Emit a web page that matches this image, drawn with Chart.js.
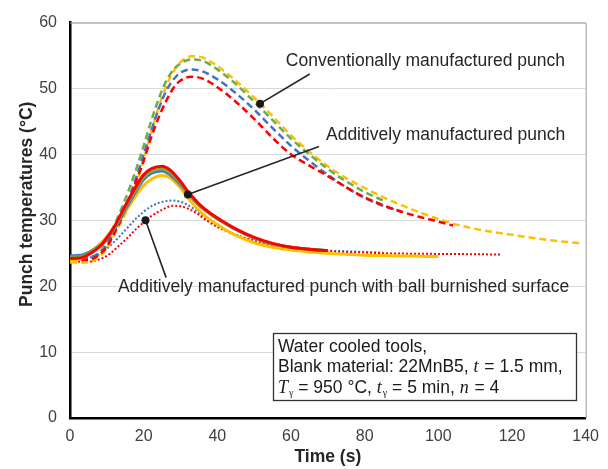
<!DOCTYPE html>
<html>
<head>
<meta charset="utf-8">
<script src="https://cdn.jsdelivr.net/npm/chart.js@4.4.1/dist/chart.umd.min.js"></script>
<style>
  html, body { margin: 0; padding: 0; background: #fff; }
</style>
</head>
<body>
<canvas id="myChart" width="608" height="469"></canvas>
<script>
// x ticks / y ticks
const xTicks = [0, 20, 40, 60, 80, 100, 120, 140];
const yTicks = [0, 10, 20, 30, 40, 50, 60];

// Conventionally manufactured punch (dashed)
const convTime   = [0, 5, 8, 10, 12, 15, 18, 20, 22, 24, 26, 28, 30, 33, 36, 40, 45, 50, 55, 60, 65, 70, 75, 80, 85, 90, 95, 100, 104, 110, 120, 130, 139];
const convYellow = [23.6, 23.6, 24.5, 25.7, 27.8, 31, 35.5, 39.3, 43.3, 47, 50.2, 52.5, 54, 54.9, 54.7, 53.4, 51.2, 48.6, 45.8, 42.9, 40.4, 38.2, 36.4, 34.9, 33.5, 32.3, 31.2, 30.2, 29.5, 28.7, 27.8, 27.0, 26.5];
const convGreen  = [24.2, 24.2, 25.2, 26.8, 29.2, 33.2, 37.8, 41.3, 45, 48.3, 51, 52.8, 53.8, 54.4, 54.2, 52.9, 50.7, 48, 45.2, 42.4, 40, 37.8, 35.9, 34.3, 33.0];
const convBlue   = [24.4, 24.4, 25, 26.2, 28.4, 32, 36.5, 40, 43.5, 46.8, 49.5, 51.3, 52.4, 52.9, 52.6, 51.4, 49.3, 46.8, 44, 41.3, 39, 36.9, 35, 33.4, 32.2, 31.3];
const convRed    = [24, 24, 24.8, 26, 28, 31.5, 36, 39, 42.5, 45.5, 48, 50, 51.2, 51.8, 51.5, 50.2, 48, 45.4, 42.5, 40, 38.3, 36.7, 35, 33.5, 32.3, 31.3, 30.5, 29.8, 29.2];

// Additively manufactured punch (solid)
const addTime   = [0, 3, 5, 7, 9, 12, 15, 18, 20, 22, 25, 27, 30, 32, 35, 38, 41, 45, 50, 55, 60, 65, 70, 75, 80, 85, 90, 95, 100];
const addRed    = [24.2, 24.3, 24.8, 25.5, 26.6, 29, 32.2, 35.2, 36.9, 37.8, 38.2, 37.7, 35.9, 34.4, 32.5, 31.1, 30, 28.7, 27.4, 26.5, 25.9, 25.6, 25.4];
const addGreen  = [24.4, 24.5, 25, 25.7, 26.6, 28.8, 31.9, 34.8, 36.5, 37.4, 37.8, 37.3, 35.6, 34.2, 32.3, 31, 29.9, 28.6, 27.3, 26.4, 25.9, 25.6, 25.4];
const addBlue   = [24.6, 24.7, 25.1, 25.7, 26.5, 28.6, 31.6, 34.5, 36.2, 37.1, 37.5, 37.0, 35.4, 34.1, 32.3, 31.0, 29.9, 28.6, 27.3, 26.4, 25.9, 25.6, 25.4];
const addYellow = [23.8, 24.2, 25, 25.9, 26.9, 28.9, 31.3, 33.8, 35.3, 36.2, 36.8, 36.5, 34.9, 33.4, 31.5, 30.1, 29.0, 27.7, 26.6, 25.9, 25.5, 25.2, 25.0, 24.85, 24.7, 24.65, 24.6, 24.55, 24.5];

// Additively manufactured punch with ball burnished surface (dotted)
const ballTime = [0, 4, 7, 9, 11, 13, 15, 18, 20, 22, 25, 28, 31, 34, 37, 40, 45, 50, 55, 60, 65, 70, 75, 80, 85, 90, 100, 110, 117];
const ballBlue = [24.4, 24.3, 24.6, 25.2, 26.2, 27.3, 28.5, 30.3, 31.3, 32.1, 32.8, 33.0, 32.6, 31.6, 30.3, 29.2, 27.8, 26.9, 26.3, 25.9, 25.6, 25.4, 25.3, 25.2, 25.1];
const ballRed  = [23.8, 23.7, 23.9, 24.3, 25.0, 26.0, 27.0, 28.7, 29.7, 30.6, 31.6, 32.2, 32.0, 31.2, 30.0, 29.0, 27.8, 26.9, 26.2, 25.8, 25.5, 25.3, 25.2, 25.1, 25.0, 24.95, 24.9, 24.85, 24.8];

// labels with leader lines (data units)
const notes = [
  { text: 'Conventionally manufactured punch', textAt: [58.6, 54.1], lineEnd: [65.1, 52.2], dot: [51.6, 47.7] },
  { text: 'Additively manufactured punch', textAt: [69.5, 42.9], lineEnd: [67.6, 41.2], dot: [32, 33.9] },
  { text: 'Additively manufactured punch with ball burnished surface', textAt: [13, 19.8], lineEnd: [26.1, 21.3], dot: [20.5, 30.0] }
];

const boxLines = [
  [{ t: 'Water cooled tools,' }],
  [{ t: 'Blank material: 22MnB5, ' }, { t: 't', i: true }, { t: ' = 1.5 mm,' }],
  [{ t: 'T', i: true }, { t: 'γ', sub: true }, { t: ' = 950 °C, ' }, { t: 't', i: true }, { t: 'γ', sub: true }, { t: ' = 5 min, ' }, { t: 'n', i: true }, { t: ' = 4' }]
];

const YELLOW = '#FFC000', GREEN = '#70AD47', BLUE = '#4472C4', RED = '#FF0000';
const SANS = '"Liberation Sans", Arial, sans-serif';
const SERIF = '"Liberation Serif", "Times New Roman", serif';

function pts(times, vals) {
  return vals.map((v, i) => ({ x: times[i], y: v }));
}

function dashed(vals, color) {
  return { data: pts(convTime, vals), borderColor: color, borderWidth: 2.5, borderDash: [7, 4] };
}
function solid(vals, color) {
  return { data: pts(addTime, vals), borderColor: color, borderWidth: 3 };
}
function dotted(vals, color) {
  return { data: pts(ballTime, vals), borderColor: color, borderWidth: 2, borderDash: [2, 2] };
}

const notePlugin = {
  id: 'notes',
  afterDatasetsDraw(chart) {
    const { ctx, chartArea: a, scales: { x, y } } = chart;
    ctx.save();

    // top / right frame
    ctx.strokeStyle = '#9a9a9a';
    ctx.lineWidth = 1;
    ctx.beginPath();
    ctx.moveTo(a.left, a.top + 0.5);
    ctx.lineTo(a.right + 0.5, a.top + 0.5);
    ctx.lineTo(a.right + 0.5, a.bottom);
    ctx.stroke();

    // leader lines, dots and labels
    ctx.font = '17.5px ' + SANS;
    ctx.textBaseline = 'middle';
    ctx.textAlign = 'left';
    notes.forEach(n => {
      const px = x.getPixelForValue(n.dot[0]), py = y.getPixelForValue(n.dot[1]);
      const lx = x.getPixelForValue(n.lineEnd[0]), ly = y.getPixelForValue(n.lineEnd[1]);
      ctx.strokeStyle = '#262626';
      ctx.lineWidth = 1.6;
      ctx.beginPath();
      ctx.moveTo(lx, ly);
      ctx.lineTo(px, py);
      ctx.stroke();
      ctx.fillStyle = '#1a1a1a';
      ctx.beginPath();
      ctx.arc(px, py, 4, 0, Math.PI * 2);
      ctx.fill();
      ctx.fillStyle = '#262626';
      ctx.fillText(n.text, x.getPixelForValue(n.textAt[0]), y.getPixelForValue(n.textAt[1]));
    });

    // info box
    const bx = 273, by = 333, bw = 303, bh = 67;
    ctx.fillStyle = '#fff';
    ctx.fillRect(bx, by, bw, bh);
    ctx.strokeStyle = '#333';
    ctx.lineWidth = 1.3;
    ctx.strokeRect(bx + 0.5, by + 0.5, bw, bh);
    boxLines.forEach((line, k) => {
      let cx = bx + 5;
      const cy = by + 14 + k * 20.5;
      line.forEach(seg => {
        let dy = 0;
        if (seg.sub) { ctx.font = '10px ' + SERIF; dy = 5; }
        else if (seg.i) { ctx.font = 'italic 18px ' + SERIF; }
        else { ctx.font = '17.5px ' + SANS; }
        ctx.fillStyle = '#1a1a1a';
        ctx.fillText(seg.t, cx, cy + dy);
        cx += ctx.measureText(seg.t).width + (seg.i ? 1 : 0);
      });
    });

    // y axis title
    ctx.translate(27, (a.top + a.bottom) / 2 - 16);
    ctx.rotate(-Math.PI / 2);
    ctx.font = 'bold 17.5px ' + SANS;
    ctx.textAlign = 'center';
    ctx.fillStyle = '#262626';
    ctx.fillText('Punch temperatures (°C)', 0, 0);
    ctx.restore();
  }
};

const ctx = document.getElementById('myChart').getContext('2d');
new Chart(ctx, {
  type: 'line',
  data: {
    datasets: [
      solid(addRed, RED),
      solid(addGreen, GREEN),
      solid(addBlue, BLUE),
      solid(addYellow, YELLOW),
      dashed(convRed, RED),
      dashed(convBlue, BLUE),
      dashed(convGreen, GREEN),
      dashed(convYellow, YELLOW),
      dotted(ballRed, RED),
      dotted(ballBlue, BLUE)
    ]
  },
  options: {
    responsive: false,
    animation: false,
    devicePixelRatio: 1,
    layout: { padding: { top: 15, right: 20, left: 0, bottom: 0 } },
    elements: {
      point: { radius: 0 },
      line: { tension: 0.4, cubicInterpolationMode: 'monotone', fill: false }
    },
    plugins: {
      legend: { display: false },
      tooltip: { enabled: false }
    },
    scales: {
      x: {
        type: 'linear',
        min: 0,
        max: 140,
        afterBuildTicks: s => { s.ticks = xTicks.map(v => ({ value: v })); },
        afterFit: s => { s.height = 51; },
        grid: { display: false, drawTicks: false },
        border: { color: '#000', width: 2.5 },
        ticks: { padding: 9, color: '#404040', font: { family: SANS, size: 16 }, maxRotation: 0 },
        title: { display: true, text: 'Time (s)', color: '#262626', padding: { top: 0, bottom: 1 }, font: { family: SANS, size: 17.5, weight: 'bold' } }
      },
      y: {
        min: 0,
        max: 60,
        afterBuildTicks: s => { s.ticks = yTicks.map(v => ({ value: v })); },
        afterFit: s => { s.width = 70; },
        grid: { color: '#d9d9d9', lineWidth: 1, drawTicks: false },
        border: { color: '#000', width: 2.5 },
        ticks: { padding: 13, color: '#404040', font: { family: SANS, size: 16 } }
      }
    }
  },
  plugins: [notePlugin]
});
</script>
</body>
</html>
